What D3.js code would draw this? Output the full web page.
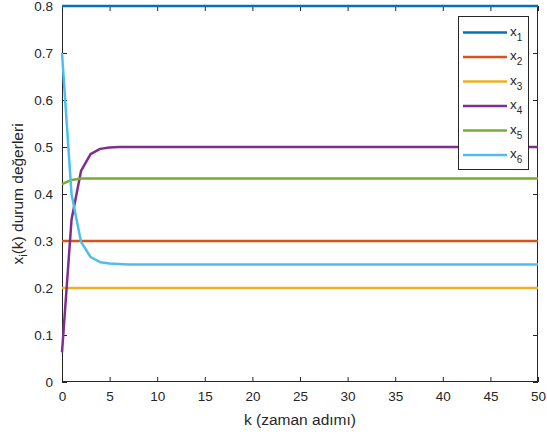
<!DOCTYPE html>
<html>
<head>
<meta charset="utf-8">
<script src="https://cdn.jsdelivr.net/npm/d3@7"></script>
<style>
  body { margin: 0; background: #fff; }
  svg { font-family: "Liberation Sans", Arial, sans-serif; }
  .axis text { fill: #262626; font-size: 13.5px; }
  .axis path, .axis line { stroke: #262626; }
</style>
</head>
<body>
<div id="chart"></div>
<script>
/* state trajectories x_i(k) */

const kSteps = [0, 1, 2, 3, 4, 5, 6, 7, 8, 50];

const x1 = [0.8, 0.8, 0.8, 0.8, 0.8, 0.8, 0.8, 0.8, 0.8, 0.8];
const x2 = [0.3, 0.3, 0.3, 0.3, 0.3, 0.3, 0.3, 0.3, 0.3, 0.3];
const x3 = [0.2, 0.2, 0.2, 0.2, 0.2, 0.2, 0.2, 0.2, 0.2, 0.2];
const x4 = [0.063, 0.345, 0.449, 0.485, 0.496, 0.499, 0.5, 0.5, 0.5, 0.5];
const x5 = [0.421, 0.430, 0.433, 0.433, 0.433, 0.433, 0.433, 0.433, 0.433, 0.433];
const x6 = [0.7, 0.40, 0.298, 0.266, 0.255, 0.252, 0.251, 0.25, 0.25, 0.25];

const seriesNames = ["1", "2", "3", "4", "5", "6"];
const seriesValues = [x1, x2, x3, x4, x5, x6];
const COLORS = ["#0072BD", "#D95319", "#EDB120", "#7E2F8E", "#77AC30", "#4DBEEE"];

const xTicks = [0, 5, 10, 15, 20, 25, 30, 35, 40, 45, 50];
const yTicks = [0, 0.1, 0.2, 0.3, 0.4, 0.5, 0.6, 0.7, 0.8];

const W = 547, H = 438;
const m = { left: 62, right: 9, top: 6, bottom: 56 };
const iw = W - m.left - m.right, ih = H - m.top - m.bottom;

const svg = d3.select("#chart").append("svg")
  .attr("width", W).attr("height", H);

const x = d3.scaleLinear().domain([0, 50]).range([m.left, m.left + iw]);
const y = d3.scaleLinear().domain([0, 0.8]).range([m.top + ih, m.top]);

// axes (ticks inside, box on)
const fmtY = d => d === 0 ? "0" : d3.format(".1f")(d);
svg.append("g").attr("class", "axis")
  .attr("transform", `translate(0,${m.top + ih})`)
  .call(d3.axisBottom(x).tickValues(xTicks).tickSize(-5).tickPadding(9).tickSizeOuter(0))
  .call(g => g.select(".domain").remove());
svg.append("g").attr("class", "axis")
  .attr("transform", `translate(${m.left},0)`)
  .call(d3.axisLeft(y).tickValues(yTicks).tickFormat(fmtY).tickSize(-5).tickPadding(9).tickSizeOuter(0))
  .call(g => g.select(".domain").remove());
svg.append("g").attr("class", "axis")
  .attr("transform", `translate(0,${m.top})`)
  .call(d3.axisTop(x).tickValues(xTicks).tickSize(-5).tickFormat("").tickSizeOuter(0))
  .call(g => g.select(".domain").remove());
svg.append("g").attr("class", "axis")
  .attr("transform", `translate(${m.left + iw},0)`)
  .call(d3.axisRight(y).tickValues(yTicks).tickSize(-5).tickFormat("").tickSizeOuter(0))
  .call(g => g.select(".domain").remove());

svg.append("rect")
  .attr("x", m.left + 0.5).attr("y", m.top + 0.5)
  .attr("width", iw - 1).attr("height", ih - 1)
  .attr("fill", "none").attr("stroke", "#262626").attr("stroke-width", 1);

// lines
const line = d3.line().x((d, i) => x(kSteps[i])).y(d => y(d));
svg.append("g").selectAll("path")
  .data(seriesValues).join("path")
  .attr("d", line)
  .attr("fill", "none")
  .attr("stroke", (d, i) => COLORS[i])
  .attr("stroke-width", 2.5)
  .attr("stroke-linejoin", "round");

// axis labels
svg.append("text")
  .attr("x", x(25)).attr("y", 425)
  .attr("text-anchor", "middle")
  .attr("fill", "#262626").attr("font-size", 15.5)
  .text("k (zaman adımı)");

const yl = svg.append("text")
  .attr("transform", `translate(23,${y(0.4)}) rotate(-90)`)
  .attr("text-anchor", "middle")
  .attr("fill", "#262626").attr("font-size", 15.5);
yl.append("tspan").text("x");
yl.append("tspan").attr("font-size", 11).attr("dy", 4).text("i");
yl.append("tspan").attr("dy", -4).text("(k) durum değerleri");

// legend
const lg = svg.append("g").attr("transform", "translate(458,16)");
lg.append("rect")
  .attr("x", 0.5).attr("y", 0.5).attr("width", 70).attr("height", 153)
  .attr("fill", "#fff").attr("stroke", "#262626").attr("stroke-width", 1);
const item = lg.selectAll(".item")
  .data(seriesNames).join("g")
  .attr("class", "item")
  .attr("transform", (d, i) => `translate(0,${16.5 + i * 24.5})`);
item.append("line")
  .attr("x1", 5).attr("x2", 49)
  .attr("stroke", (d, i) => COLORS[i]).attr("stroke-width", 2.5);
const lt = item.append("text")
  .attr("x", 52).attr("y", 3)
  .attr("fill", "#262626").attr("font-size", 13.5);
lt.append("tspan").text("x");
lt.append("tspan").attr("font-size", 10).attr("dy", 5).text(d => d);
</script>
</body>
</html>
